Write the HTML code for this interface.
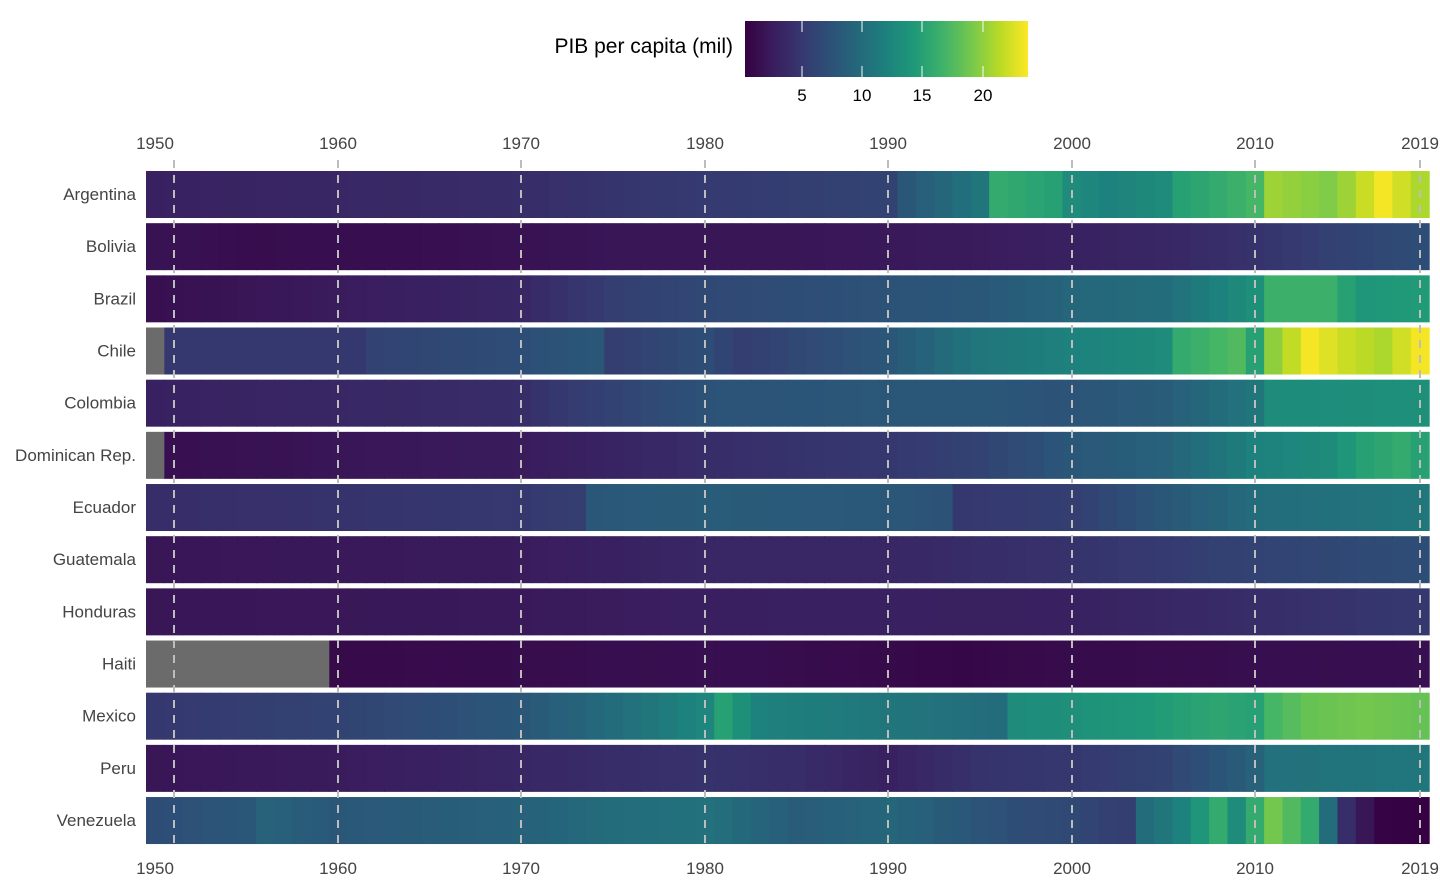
<!DOCTYPE html>
<html><head><meta charset="utf-8">
<style>
html,body{margin:0;padding:0;background:#fff;}
svg{display:block;font-family:"Liberation Sans",sans-serif;}
</style></head><body>
<svg id="s" width="1440" height="889" xmlns="http://www.w3.org/2000/svg">
<defs><linearGradient id="vg" x1="0" x2="1" y1="0" y2="0"></linearGradient></defs>
<text x="733" y="53" font-size="21" text-anchor="end" fill="#000">PIB per capita (mil)</text>
<rect x="745" y="21" width="283" height="56" fill="url(#vg)"/>
<g id="cells"></g>
<g id="lab" font-size="17" fill="#444"></g>
</svg>
<script>
const V=["#440154","#482475","#414487","#355f8d","#2a788e","#21918c","#22a884","#44bf70","#7ad151","#bddf26","#fde725"];
function h2r(h){return [1,3,5].map(i=>parseInt(h.substr(i,2),16));}
function col(v){let t=(v-0.25)/23.55;t=Math.max(0,Math.min(1,t));let p=t*10,i=Math.min(9,Math.floor(p)),f=p-i;
let a=h2r(V[i]),b=h2r(V[i+1]);let d=0.78+0.22*t;
return "rgb("+a.map((x,k)=>Math.round((x+(b[k]-x)*f)*d)).join(",")+")";}
const D={
"Argentina":{1950:3,1970:4,1978:5,1985:5.5,1990:6,1991:8,1993:9.5,1995:11,1996:16,1999:15,2000:13,2002:12,2005:13,2006:15,2008:16,2010:17,2011:20.5,2014:19.5,2015:20.5,2017:23.5,2019:21},
"Bolivia":{1950:1.8,1955:1.3,1965:1.5,1975:2,1985:2,1995:2.5,2005:3.5,2010:4.5,2015:6,2019:7},
"Brazil":{1950:1.5,1960:2.5,1970:3.5,1975:5.5,1980:6.5,1985:7,1995:8,2000:9.5,2005:10,2008:12,2010:13.5,2011:16.5,2014:16.5,2015:15,2016:14,2019:14.5},
"Chile":{1951:5,1961:5,1962:6,1970:7,1974:8,1975:5.5,1980:7,1982:5.5,1985:6.5,1990:8,1995:11,2000:12,2005:13,2006:16,2009:17.5,2010:15,2011:20,2013:23.5,2015:22,2017:21,2019:23.5},
"Colombia":{1950:3,1960:3.5,1970:4,1972:5,1975:6,1980:7.5,1990:8,1995:8,1999:7.5,2005:8.5,2010:11,2011:13,2019:13.5},
"Dominican Rep.":{1951:1.5,1960:2,1970:2.5,1980:4,1990:5,1995:6,2000:8,2005:9,2010:12,2014:13,2016:15,2018:16,2019:15},
"Ecuador":{1950:4,1960:4.5,1970:5,1973:5.5,1974:8,1980:8.5,1990:8,1993:7.5,1994:5,2000:5.5,2005:8,2010:10,2019:11},
"Guatemala":{1950:2,1970:2.5,1980:3.5,1990:3.5,2000:4.5,2010:6,2019:7},
"Honduras":{1950:2,1970:2.3,1980:2.8,2000:3,2010:4,2019:5},
"Haiti":{1960:1,1980:1.5,1994:0.8,2000:1.2,2019:1.5},
"Mexico":{1950:5,1960:6,1970:8,1975:10,1980:12.5,1981:15,1983:12,1990:11,1996:10,1997:13,2003:14,2008:15.5,2010:15,2011:17,2013:18.5,2016:19,2019:18.5},
"Peru":{1950:2,1960:2.5,1970:3.5,1980:4.5,1985:4,1990:3,1995:4.5,2000:5,2005:6,2010:9,2011:10.5,2019:11},
"Venezuela":{1950:7,1955:8,1956:9,1960:8,1970:9,1975:10,1980:10.5,1985:8.5,1990:9.5,1997:7,2000:6.5,2003:5.5,2004:10,2006:12,2008:16,2009:13,2011:19,2013:16,2014:10,2015:4,2016:2,2017:0.5,2019:0.3}};
const NS="http://www.w3.org/2000/svg";
function el(n,a,p,t){const e=document.createElementNS(NS,n);for(const k in a)e.setAttribute(k,a[k]);if(t)e.textContent=t;p.appendChild(e);return e;}
const g=document.getElementById("cells"),L=document.getElementById("lab");
const x0=146,w=18.33;
Object.keys(D).forEach((c,r)=>{
 const y=171+r*52.17,k=Object.keys(D[c]).map(Number).sort((a,b)=>a-b);
 for(let yr=1950;yr<=2019;yr++){
  let fill;
  if(yr<k[0]) fill="#6b6b6b"; else{
   let j=0;while(j<k.length-1&&k[j+1]<=yr)j++;
   let v;if(j==k.length-1)v=D[c][k[j]];else{const a=k[j],b=k[j+1];v=D[c][a]+(D[c][b]-D[c][a])*(yr-a)/(b-a);}
   fill=col(v);}
  el("rect",{x:(x0+(yr-1950)*w).toFixed(2),y:y.toFixed(2),width:(w+0.6).toFixed(2),height:47,fill:fill},g);
 }
 el("text",{x:136,y:(y+29).toFixed(1),"text-anchor":"end"},L,c);
});
const lines=[[174,1950],[338,1960],[521,1970],[705,1980],[888,1990],[1072,2000],[1255,2010],[1420,2019]];
lines.forEach(([x,yr])=>{
 el("line",{x1:x,x2:x,y1:160,y2:850,stroke:"#bdbdbd","stroke-width":2,"stroke-dasharray":"8,7"},g);
 const lx=yr==1950?155:yr==2019?1420:x;
 el("text",{x:lx,y:149,"text-anchor":"middle"},L,yr);
 el("text",{x:lx,y:874,"text-anchor":"middle"},L,yr);
});
const gr=document.getElementById("vg");
for(let i=0;i<=20;i++){const v=0.25+23.55*i/20;el("stop",{offset:(i/20),"stop-color":col(v)},gr);}
const s=document.getElementById("s");
[[802,5],[862,10],[922,15],[983,20]].forEach(([x,v])=>{
 el("line",{x1:x,x2:x,y1:21,y2:32,stroke:"#fff","stroke-width":1.2,opacity:0.8},s);
 el("line",{x1:x,x2:x,y1:66,y2:77,stroke:"#fff","stroke-width":1.2,opacity:0.8},s);
 el("text",{x:x,y:101,"text-anchor":"middle","font-size":17,fill:"#000"},s,v);
});
</script>
</body></html>
